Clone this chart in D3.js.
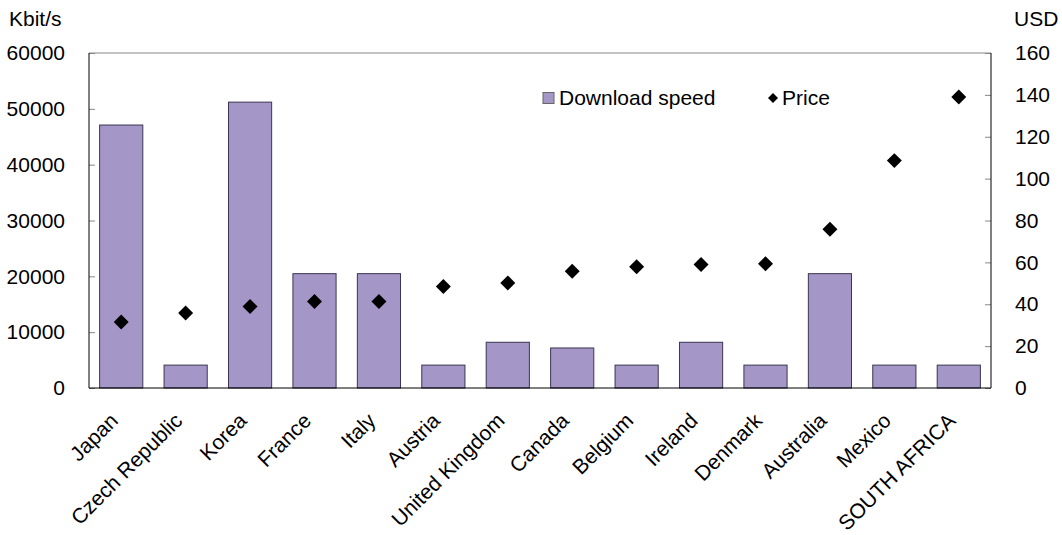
<!DOCTYPE html>
<html>
<head>
<meta charset="utf-8">
<script src="https://cdn.jsdelivr.net/npm/d3@7"></script>
<style>
  body { margin: 0; background: #fff; }
  text { font-family: "Liberation Sans", Arial, Helvetica, sans-serif; fill: #000; }
</style>
</head>
<body>
<div id="chart"></div>
<script>
// Data
const countries = ["Japan", "Czech Republic", "Korea", "France", "Italy", "Austria",
  "United Kingdom", "Canada", "Belgium", "Ireland", "Denmark", "Australia", "Mexico", "SOUTH AFRICA"];
const downloadSpeed = [47100, 4100, 51200, 20480, 20480, 4100, 8190, 7170, 4100, 8190, 4100, 20480, 4100, 4100];
const price = [31.5, 35.8, 38.9, 41.3, 41.3, 48.5, 50.2, 55.8, 57.9, 59.0, 59.3, 75.8, 108.6, 139.0];
const leftTicks = [0, 10000, 20000, 30000, 40000, 50000, 60000];
const rightTicks = [0, 20, 40, 60, 80, 100, 120, 140, 160];

// Layout
const W = 1062, H = 535;
const margin = {top: 53, right: 71, bottom: 147, left: 89};
const width = W - margin.left - margin.right,
      height = H - margin.top - margin.bottom;
const fontSize = "21px";

const svg = d3.select("#chart").append("svg")
  .attr("width", W)
  .attr("height", H);

const g = svg.append("g")
  .attr("transform", `translate(${margin.left},${margin.top})`);

// Scales
const x = d3.scaleBand().domain(countries).range([0, width]).paddingInner(0.33).paddingOuter(0.165);
const yL = d3.scaleLinear().domain([0, 60000]).range([height, 0]);
const yR = d3.scaleLinear().domain([0, 160]).range([height, 0]);
const xc = d => x(d) + x.bandwidth() / 2;

// Left axis
const leftAxis = g.append("g")
  .call(d3.axisLeft(yL).tickValues(leftTicks).tickSize(-6).tickPadding(24).tickFormat(d3.format("d")));
leftAxis.select(".domain").remove();
leftAxis.selectAll(".tick line").attr("stroke", "#888");
leftAxis.selectAll(".tick text").style("font-size", fontSize);

// Right axis
const rightAxis = g.append("g")
  .attr("transform", `translate(${width},0)`)
  .call(d3.axisRight(yR).tickValues(rightTicks).tickSize(-6).tickPadding(24));
rightAxis.select(".domain").remove();
rightAxis.selectAll(".tick line").attr("stroke", "#888");
rightAxis.selectAll(".tick text").style("font-size", fontSize);

// Bars
g.selectAll(".bar")
  .data(countries)
  .enter()
  .append("rect")
    .attr("class", "bar")
    .attr("x", d => x(d))
    .attr("y", (d, i) => yL(downloadSpeed[i]))
    .attr("width", x.bandwidth())
    .attr("height", (d, i) => height - yL(downloadSpeed[i]))
    .attr("fill", "#a497c8")
    .attr("stroke", "#3a3550")
    .attr("stroke-width", 1);

// Frame
g.append("line").attr("x1", 0).attr("x2", width).attr("y1", 0).attr("y2", 0).attr("stroke", "#888");
g.append("line").attr("x1", 0).attr("x2", 0).attr("y1", 0).attr("y2", height).attr("stroke", "#000");
g.append("line").attr("x1", width).attr("x2", width).attr("y1", 0).attr("y2", height).attr("stroke", "#000");
g.append("line").attr("x1", 0).attr("x2", width).attr("y1", height).attr("y2", height).attr("stroke", "#000");

// Price diamonds
const diamond = d3.symbol().type(d3.symbolSquare).size(112);
g.selectAll(".price")
  .data(countries)
  .enter()
  .append("path")
    .attr("class", "price")
    .attr("d", diamond)
    .attr("transform", (d, i) => `translate(${xc(d)},${yR(price[i])}) rotate(45)`)
    .attr("fill", "#000");

// X labels
g.selectAll(".xlabel")
  .data(countries)
  .enter()
  .append("text")
    .attr("class", "xlabel")
    .attr("transform", d => `translate(${xc(d) - 2},${height + 34}) rotate(-45)`)
    .attr("text-anchor", "end")
    .style("font-size", fontSize)
    .text(d => d);

// Unit labels
svg.append("text").attr("x", 9).attr("y", 26).style("font-size", fontSize).text("Kbit/s");
svg.append("text").attr("x", 1014).attr("y", 26).style("font-size", fontSize).text("USD");

// Legend
const legend = svg.append("g");
legend.append("rect")
  .attr("x", 543).attr("y", 92.5).attr("width", 11).attr("height", 11)
  .attr("fill", "#a497c8").attr("stroke", "#666");
legend.append("text").attr("x", 559).attr("y", 105).style("font-size", fontSize).text("Download speed");
legend.append("path")
  .attr("d", d3.symbol().type(d3.symbolSquare).size(50))
  .attr("transform", "translate(773,98) rotate(45)")
  .attr("fill", "#000");
legend.append("text").attr("x", 782).attr("y", 105).style("font-size", fontSize).text("Price");
</script>
</body>
</html>
